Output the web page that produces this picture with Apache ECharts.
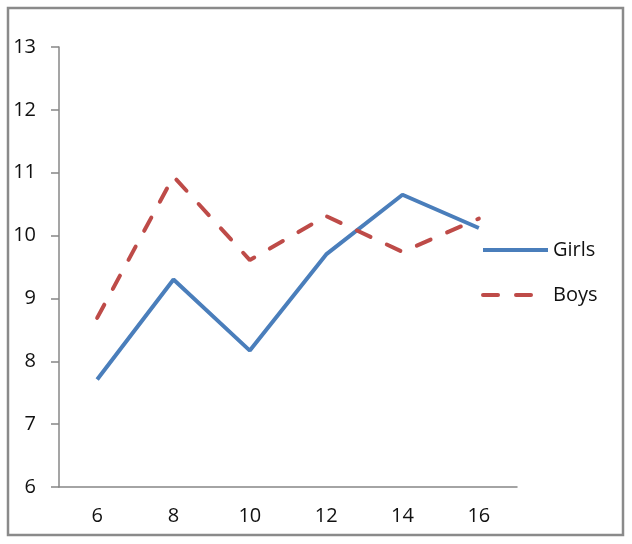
<!DOCTYPE html>
<html>
<head>
<meta charset="utf-8">
<script src="https://cdn.jsdelivr.net/npm/echarts@6/dist/echarts.min.js"></script>
<style>
  html, body { margin: 0; padding: 0; background: #fff; }
  #chart { width: 632px; height: 544px; }
</style>
</head>
<body>
<div id="chart"></div>
<script>
var ages = ['6', '8', '10', '12', '14', '16'];
var girls = [7.71, 9.30, 8.17, 9.70, 10.65, 10.12];
var boys = [8.69, 10.94, 9.61, 10.31, 9.74, 10.27];

var chart = echarts.init(document.getElementById('chart'));
var font = 'Open Sans';

chart.setOption({
    animation: false,
    graphic: [{
        type: 'rect',
        shape: { x: 8, y: 8, width: 615, height: 527 },
        style: { fill: 'none', stroke: '#8a8a8a', lineWidth: 2.5 }
    }],
    grid: { left: 59, right: 115, top: 47, bottom: 57 },
    legend: {
        orient: 'vertical',
        left: 481,
        top: 240,
        padding: 0,
        itemWidth: 65,
        itemHeight: 20,
        itemGap: 25,
        textStyle: { fontFamily: font, fontSize: 20, color: '#111' },
        data: [
            { name: 'Girls', itemStyle: { opacity: 0 }, lineStyle: { width: 4, color: '#4a7ebb', type: 'solid' } },
            { name: 'Boys', itemStyle: { opacity: 0 }, lineStyle: { width: 4, color: '#be4b48', type: [15, 18], cap: 'round' } }
        ]
    },
    xAxis: {
        type: 'category',
        data: ages,
        boundaryGap: true,
        axisLine: { lineStyle: { color: '#878787', width: 1.5 } },
        axisTick: { length: 7, lineStyle: { color: '#878787', width: 1.5 } },
        axisLabel: { margin: 19, fontFamily: font, fontSize: 20, color: '#111' },
        splitLine: { show: false }
    },
    yAxis: {
        type: 'value',
        min: 6,
        max: 13,
        interval: 1,
        axisLine: { show: true, lineStyle: { color: '#878787', width: 1.5 } },
        axisTick: { show: true, length: 8, lineStyle: { color: '#878787', width: 1.5 } },
        axisLabel: { margin: 23, fontFamily: font, fontSize: 20, color: '#111' },
        splitLine: { show: false }
    },
    series: [
        {
            name: 'Girls',
            type: 'line',
            data: girls,
            symbol: 'none',
            lineStyle: { color: '#4a7ebb', width: 4 },
            itemStyle: { color: '#4a7ebb' }
        },
        {
            name: 'Boys',
            type: 'line',
            data: boys,
            symbol: 'none',
            lineStyle: { color: '#be4b48', width: 4, type: [15, 18], cap: 'round' },
            itemStyle: { color: '#be4b48' }
        }
    ]
});
</script>
</body>
</html>
